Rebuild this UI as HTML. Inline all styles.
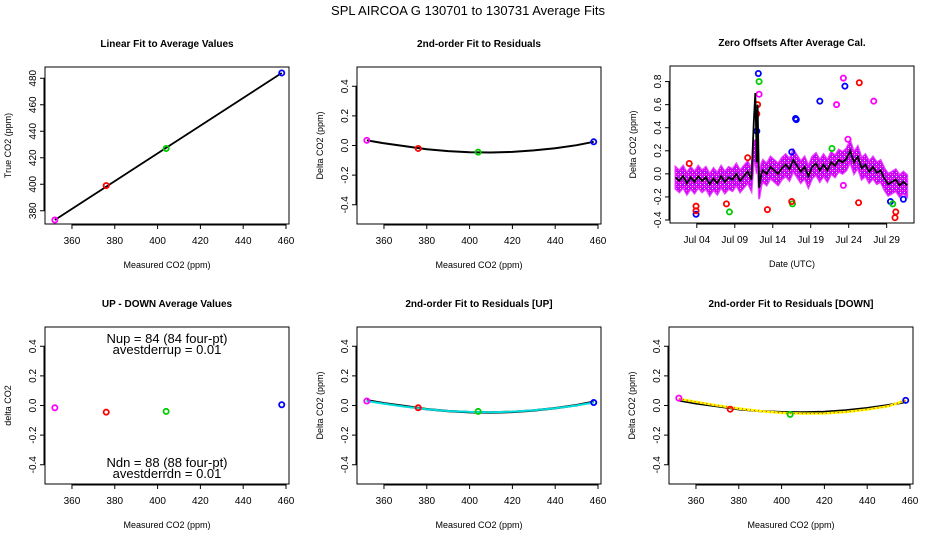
<!DOCTYPE html>
<html><head><meta charset="utf-8"><style>
body{margin:0;background:#fff}
svg{display:block;font-family:"Liberation Sans",sans-serif}
</style></head><body>
<svg id="c" width="936" height="540" xmlns="http://www.w3.org/2000/svg">
<text x="468" y="15" text-anchor="middle" font-size="13">SPL   AIRCOA G   130701 to 130731   Average Fits</text>
<defs>
<pattern id="mg" width="4" height="4" patternUnits="userSpaceOnUse"><rect width="4" height="4" fill="#d000f0"/><rect x="0" y="0" width="1" height="1" fill="#fff"/><rect x="2" y="2" width="1" height="1" fill="#ff99ff"/><rect x="2" y="0" width="1" height="1" fill="#5050ff"/><rect x="0" y="2" width="1" height="1" fill="#ff40ff"/></pattern>
</defs>
</svg>
<script>
// ---- data ----
const calNames = ["std1","std2","std3","std4"];
const calColors = ["#f0f","#f00","#0c0","#00f"];
const measured = [352, 376, 404, 458];
const trueVals = [373, 399, 427, 484];
const residuals = [0.035, -0.02, -0.045, 0.025];
const upDown = [-0.015, -0.045, -0.04, 0.005];
const residUp = [0.03, -0.015, -0.04, 0.02];
const residDn = [0.05, -0.025, -0.06, 0.035];
const fitX = [352,360,370,380,390,400,410,420,430,440,450,458];
const fitResid = [0.035,0.015,-0.005,-0.025,-0.038,-0.045,-0.047,-0.043,-0.033,-0.018,0.002,0.025];
const fitUp = [0.03,0.012,-0.008,-0.025,-0.037,-0.043,-0.045,-0.041,-0.032,-0.018,0.0,0.02];
const fitDn = [0.045,0.025,0.0,-0.02,-0.038,-0.05,-0.055,-0.053,-0.044,-0.028,-0.005,0.035];
const dateDays = [1.2,1.7,2.2,2.7,3.2,3.7,4.2,4.7,5.2,5.7,6.2,6.7,7.2,7.7,8.2,8.7,9.2,9.7,10.2,10.7,11.2,11.5,11.7,11.9,12.0,12.2,12.5,12.7,13.2,13.7,14.2,14.7,15.2,15.7,16.2,16.7,17.2,17.7,18.2,18.7,19.2,19.7,20.2,20.7,21.2,21.7,22.2,22.7,23.2,23.7,24.2,24.7,25.2,25.7,26.2,26.7,27.2,27.7,28.2,28.7,29.2,29.7,30.2,30.7,31.2,31.7];
const meanOffset = [-0.03,-0.06,-0.02,-0.08,-0.03,-0.07,-0.02,-0.06,-0.03,-0.09,-0.04,-0.08,-0.02,-0.07,-0.03,-0.05,0.0,-0.06,-0.02,0.02,-0.05,0.45,0.7,0.1,0.6,-0.12,0.0,0.03,0.0,0.06,0.03,0.0,0.05,0.08,0.04,0.12,0.07,0.02,0.06,-0.02,0.06,0.09,0.03,0.08,0.03,0.1,0.07,0.12,0.1,0.13,0.2,0.1,0.15,0.05,0.08,0.02,0.06,0.01,0.03,-0.04,-0.09,-0.07,-0.05,-0.1,-0.07,-0.1];
const outDay = [12.1,11.9,17.1,17.0,20.2,23.5,3.9,29.5,31.2,16.5, 12.2,8.3,16.6,29.8,21.8, 25.4,12.0,11.9,13.3,16.5,25.3,3.9,3.9,30.1,30.2,7.9,3.0,10.7, 23.3,22.4,27.3,12.2,23.9,23.3];
const outVal = [0.87,0.37,0.47,0.48,0.63,0.76,-0.35,-0.24,-0.22,0.19, 0.8,-0.33,-0.26,-0.26,0.22, 0.79,0.6,0.52,-0.31,-0.24,-0.25,-0.28,-0.32,-0.38,-0.33,-0.26,0.09,0.14, 0.83,0.6,0.63,0.69,0.3,-0.1];
const outCal = [3,3,3,3,3,3,3,3,3,3, 2,2,2,2,2, 1,1,1,1,1,1,1,1,1,1,1,1,1, 0,0,0,0,0,0];
const co2Ticks = [360,380,400,420,440,460];
const trueTicks = [380,400,420,440,460,480];
const deltaTicks = [-0.4,-0.2,0.0,0.2,0.4];
const zeroTicks = [-0.4,-0.2,0.0,0.2,0.4,0.6,0.8];
const dateTicks = [4,9,14,19,24,29];
const dateLabels = ["Jul 04","Jul 09","Jul 14","Jul 19","Jul 24","Jul 29"];

const svg = document.getElementById('c');
const NS = "http://www.w3.org/2000/svg";
function el(tag, attrs, parent){const e=document.createElementNS(NS,tag);for(const k in attrs)e.setAttribute(k,attrs[k]);(parent||svg).appendChild(e);return e;}
function txt(x,y,s,size,attrs,parent){const t=el('text',Object.assign({x:x,y:y,'font-size':size,'text-anchor':'middle'},attrs||{}),parent);t.textContent=s;return t;}

function panel(name,L,T,xd,yd,title,xlab,ylab,xt,xtl,yt,ytl){
  const W=244,H=157;
  const g=el('g',{});
  
  
  const sx=v=>L+(v-xd[0])/(xd[1]-xd[0])*W;
  const sy=v=>T+H-(v-yd[0])/(yd[1]-yd[0])*H;
  const b=el('rect',{x:L,y:T,width:W,height:H,fill:'none',stroke:'#000','stroke-width':1},g);
  
  const t=txt(L+W/2,T-20,title,10,{'font-weight':'bold'},g);
  
  const xa=el('g',{},g);
  xt.forEach((v,i)=>{const x=sx(v);el('line',{x1:x,x2:x,y1:T+H,y2:T+H+5,stroke:'#000'},xa);txt(x,T+H+20,xtl[i],10,{},xa);});
  el('line',{x1:sx(xt[0]),x2:sx(xt[xt.length-1]),y1:T+H+1,y2:T+H+1,stroke:'#000'},xa);
  const ya=el('g',{},g);
  yt.forEach((v,i)=>{const y=sy(v);el('line',{x1:L-5,x2:L,y1:y,y2:y,stroke:'#000'},ya);txt(L-9,y,ytl[i],10,{transform:`rotate(-90 ${L-9} ${y})`},ya);});
  el('line',{x1:L-1,x2:L-1,y1:sy(yt[0]),y2:sy(yt[yt.length-1]),stroke:'#000'},ya);
  const xl=txt(L+W/2,T+H+44,xlab,9,{},g);
  const yl=txt(L-34,T+H/2,ylab,9,{transform:`rotate(-90 ${L-34} ${T+H/2})`},g);
  return {g,sx,sy};
}
function pts(p,xs,ys,name){
  xs.forEach((v,i)=>{const c=el('circle',{cx:p.sx(v),cy:p.sy(ys[i]),r:2.6,fill:'none',stroke:calColors[i],'stroke-width':1.8},p.g);
  });
}
function line(p,xs,ys,stroke,w,name,dash){
  const d=xs.map((v,i)=>(i?'L':'M')+p.sx(v).toFixed(1)+' '+p.sy(ys[i]).toFixed(1)).join(' ');
  const l=el('path',{d:d,fill:'none',stroke:stroke,'stroke-width':w},p.g);if(dash)l.setAttribute('stroke-dasharray',dash);
  return l;
}
const co2L=co2Ticks.map(String), dL=deltaTicks.map(v=>v.toFixed(1));
const xd=[347.4,461.4], rd=[-0.53,0.53];

const p1=panel('linear-fit-panel',45,67,xd,[370,488.5],'Linear Fit to Average Values','Measured CO2 (ppm)','True CO2 (ppm)',co2Ticks,co2L,trueTicks,trueTicks.map(String));
line(p1,[measured[0],measured[3]],[trueVals[0],trueVals[3]],'#000',1.8,'linear-fit-line');
pts(p1,measured,trueVals,'true-point');

const p2=panel('residual-fit-panel',357,67,xd,rd,'2nd-order Fit to Residuals','Measured CO2 (ppm)','Delta CO2 (ppm)',co2Ticks,co2L,deltaTicks,dL);
line(p2,fitX,fitResid,'#000',2,'residual-fit-curve');
pts(p2,measured,residuals,'residual-point');

const p3=panel('zero-offsets-panel',670,66,[0.47,32.6],[-0.426,0.935],'Zero Offsets After Average Cal.','Date (UTC)','Delta CO2 (ppm)',dateTicks,dateLabels,zeroTicks,zeroTicks.map(v=>v.toFixed(1)));
{
  const up=dateDays.map((d,i)=>p3.sx(d).toFixed(1)+','+p3.sy(Math.min(meanOffset[i],0.2)+0.09).toFixed(1));
  const dn=dateDays.map((d,i)=>p3.sx(d).toFixed(1)+','+p3.sy(Math.min(meanOffset[i],0.2)-0.1).toFixed(1)).reverse();
  const band=el('polygon',{points:up.concat(dn).join(' '),fill:'url(#mg)',stroke:'#d0f','stroke-width':2,'stroke-opacity':0.7},p3.g);
  
  outDay.forEach((d,i)=>{const c=el('circle',{cx:p3.sx(d),cy:p3.sy(outVal[i]),r:2.6,fill:'none',stroke:calColors[outCal[i]],'stroke-width':1.8},p3.g);
    });
  line(p3,dateDays,meanOffset,'#000',1.8,'mean-offset-line');
}

const p4=panel('up-down-panel',45,327,xd,rd,'UP - DOWN Average Values','Measured CO2 (ppm)','delta CO2',co2Ticks,co2L,deltaTicks,dL);
pts(p4,measured,upDown,'updown-point');
[['Nup = 84 (84 four-pt)',343],['avestderrup =  0.01',354],['Ndn = 88 (88 four-pt)',467],['avestderrdn =  0.01',478]].forEach((a,i)=>{
  const t=txt(167,a[1],a[0],13,{},p4.g);});

const p5=panel('residual-up-panel',357,327,xd,rd,'2nd-order Fit to Residuals [UP]','Measured CO2 (ppm)','Delta CO2 (ppm)',co2Ticks,co2L,deltaTicks,dL);
line(p5,fitX,fitResid,'#000',2.4,'overall-fit-curve');
line(p5,fitX,fitUp,'#0dd',2,'up-fit-curve');
pts(p5,measured,residUp,'up-point');

const p6=panel('residual-down-panel',669,327,xd,rd,'2nd-order Fit to Residuals [DOWN]','Measured CO2 (ppm)','Delta CO2 (ppm)',co2Ticks,co2L,deltaTicks,dL);
line(p6,fitX,fitResid,'#000',2.4,'overall-fit-curve');
line(p6,fitX,fitDn,'#ff0',2.4,'down-fit-curve');
line(p6,fitX,fitDn,'#e00',1,'down-fit-curve-dots','1 3');
pts(p6,measured,residDn,'down-point');
</script>
</body></html>
